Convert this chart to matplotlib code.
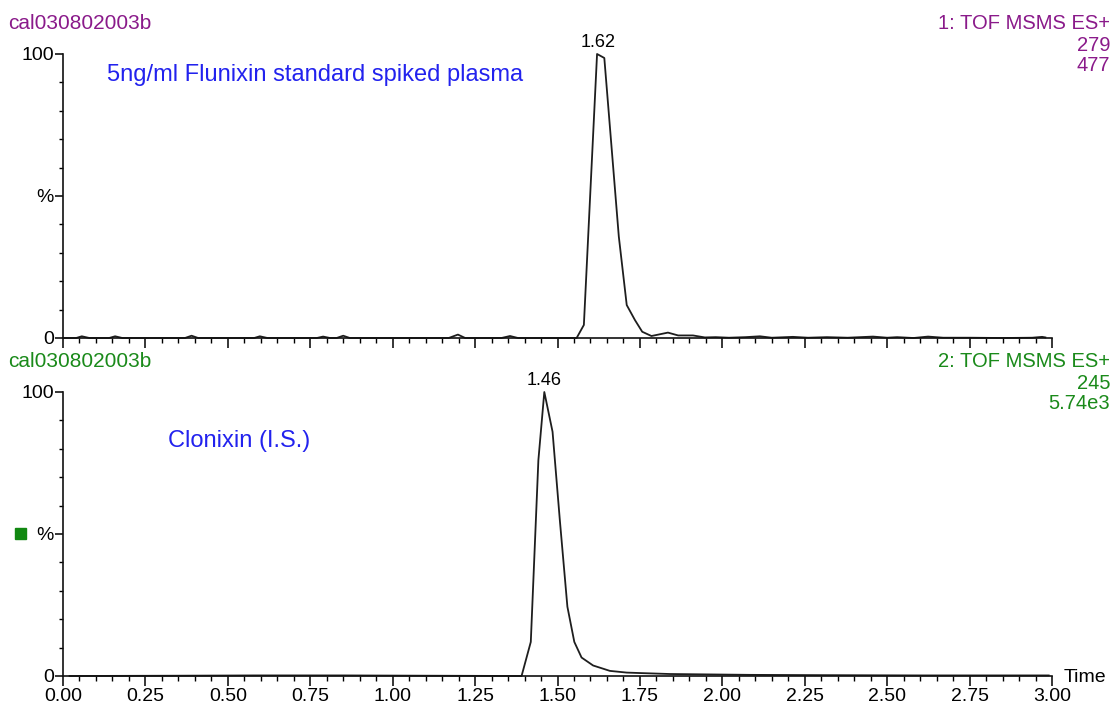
import matplotlib
matplotlib.use("Agg")
import matplotlib.pyplot as plt
from matplotlib.ticker import MultipleLocator, FixedLocator

plt.rcParams['font.family'] = ['Liberation Sans', 'DejaVu Sans']

# Channel 1: Flunixin, m/z 279, base intensity 477
flu_time = [0.00, 0.04, 0.057, 0.08, 0.14, 0.158, 0.18, 0.37, 0.39, 0.41,
            0.58, 0.597, 0.62, 0.77, 0.789, 0.81, 0.83, 0.85, 0.87, 1.17,
            1.198, 1.22, 1.33, 1.356, 1.38, 1.535, 1.558, 1.580, 1.620, 1.642,
            1.686, 1.710, 1.735, 1.757, 1.785, 1.810, 1.835, 1.866, 1.911, 1.947,
            1.980, 2.020, 2.070, 2.114, 2.150, 2.214, 2.260, 2.317, 2.380, 2.457,
            2.500, 2.530, 2.580, 2.624, 2.670, 2.750, 2.850, 2.940, 2.970, 2.980]
flu_int = [0.0, 0.0, 0.6, 0.0, 0.0, 0.6, 0.0, 0.0, 0.8, 0.0,
           0.0, 0.6, 0.0, 0.0, 0.5, 0.0, 0.0, 0.8, 0.0, 0.0,
           1.2, 0.0, 0.0, 0.7, 0.0, 0.0, 0.0, 4.6, 100.0, 98.6,
           35.7, 11.6, 6.3, 2.2, 0.7, 1.3, 1.9, 0.9, 0.9, 0.2,
           0.3, 0.1, 0.3, 0.6, 0.1, 0.4, 0.1, 0.3, 0.1, 0.5,
           0.1, 0.3, 0.0, 0.5, 0.1, 0.1, 0.0, 0.1, 0.4, 0.2]

# Channel 2: Clonixin internal standard, m/z 245, base intensity 5.74e3
clo_time = [0.02, 0.35, 0.58, 0.85, 1.10, 1.391, 1.419, 1.442, 1.460, 1.485,
            1.507, 1.530, 1.551, 1.573, 1.608, 1.659, 1.710, 1.760, 1.841, 2.084,
            2.300, 2.600, 2.990]
clo_int = [0.0, 0.1, 0.2, 0.2, 0.1, 0.0, 12.0, 76.0, 100.0, 86.0,
           55.0, 24.4, 12.0, 6.5, 3.7, 1.8, 1.2, 1.0, 0.7, 0.4,
           0.3, 0.2, 0.2]

flu_peak = 1.62
clo_peak = 1.46

x_major = [0.00, 0.25, 0.50, 0.75, 1.00, 1.25, 1.50, 1.75, 2.00, 2.25, 2.50, 2.75, 3.00]
x_labels = ['0.00', '0.25', '0.50', '0.75', '1.00', '1.25', '1.50', '1.75',
            '2.00', '2.25', '2.50', '2.75', '3.00']
y_major = [0, 50, 100]
y_labels = ['0', '%', '100']

W, H = 1119, 706
PURPLE = '#8a1a8a'
GREEN = '#1a8a1a'
BLUE = '#2222ee'
TRACE = '#1e1e1e'

fig = plt.figure(figsize=(W / 100, H / 100), dpi=100)


def fx(px):
    return px / W


def fy(py):
    return 1 - py / H


def make_axes(y_zero, y_top):
    ax = fig.add_axes([fx(63), fy(y_zero), fx(1052) - fx(63), fy(y_top) - fy(y_zero)])
    ax.set_xlim(0, 3.0)
    ax.set_ylim(0, 100)
    for s in ('top', 'right'):
        ax.spines[s].set_visible(False)
    for s in ('left', 'bottom'):
        ax.spines[s].set_linewidth(1.2)
        ax.spines[s].set_color('#111111')
    ax.xaxis.set_major_locator(FixedLocator(x_major))
    ax.xaxis.set_minor_locator(MultipleLocator(0.05))
    ax.yaxis.set_major_locator(FixedLocator(y_major))
    ax.yaxis.set_minor_locator(MultipleLocator(10))
    ax.set_yticklabels(y_labels)
    ax.tick_params(axis='x', which='major', direction='out', length=7.5, width=1.1,
                   labelsize=14, pad=1)
    ax.tick_params(axis='x', which='minor', direction='out', length=3.8, width=1.0)
    ax.tick_params(axis='y', which='major', direction='out', length=5.5, width=1.1,
                   labelsize=14, pad=1)
    ax.tick_params(axis='y', which='minor', direction='out', length=3.0, width=1.0)
    return ax


ax1 = make_axes(338, 54)
ax2 = make_axes(676, 392)

ax1.plot(flu_time, flu_int, color=TRACE, lw=1.3, clip_on=False)
ax1.set_xticklabels([])
ax2.plot(clo_time, clo_int, color=TRACE, lw=1.3, clip_on=False)
ax2.set_xticklabels(x_labels)

# peak retention-time labels
ax1.annotate(f'{flu_peak:.2f}', xy=(flu_peak, 100), xytext=(1, 2),
             textcoords='offset points', ha='center', va='bottom', fontsize=13,
             annotation_clip=False)
ax2.annotate(f'{clo_peak:.2f}', xy=(clo_peak, 100), xytext=(0, 2),
             textcoords='offset points', ha='center', va='bottom', fontsize=13,
             annotation_clip=False)

# sample descriptions
fig.text(fx(107), fy(75), '5ng/ml Flunixin standard spiked plasma', color=BLUE,
         fontsize=17, ha='left', va='center')
fig.text(fx(168), fy(441), 'Clonixin (I.S.)', color=BLUE, fontsize=17,
         ha='left', va='center')

# channel headers
for off, col, lines in ((0, PURPLE, ['1: TOF MSMS ES+', '279', '477']),
                        (338, GREEN, ['2: TOF MSMS ES+', '245', '5.74e3'])):
    fig.text(fx(8), fy(29 + off), 'cal030802003b', color=col, fontsize=15,
             ha='left', va='baseline')
    for base, txt in zip((29, 51, 71), lines):
        fig.text(fx(1110), fy(base + off), txt, color=col, fontsize=14.5,
                 ha='right', va='baseline')

# selected-trace marker
fig.patches.append(plt.Rectangle((fx(15), fy(539)), fx(11), fy(528) - fy(539),
                                 transform=fig.transFigure, color='#118811'))

fig.text(fx(1064), fy(678), 'Time', fontsize=14, ha='left', va='center')

fig.savefig('out.png', dpi=100)
